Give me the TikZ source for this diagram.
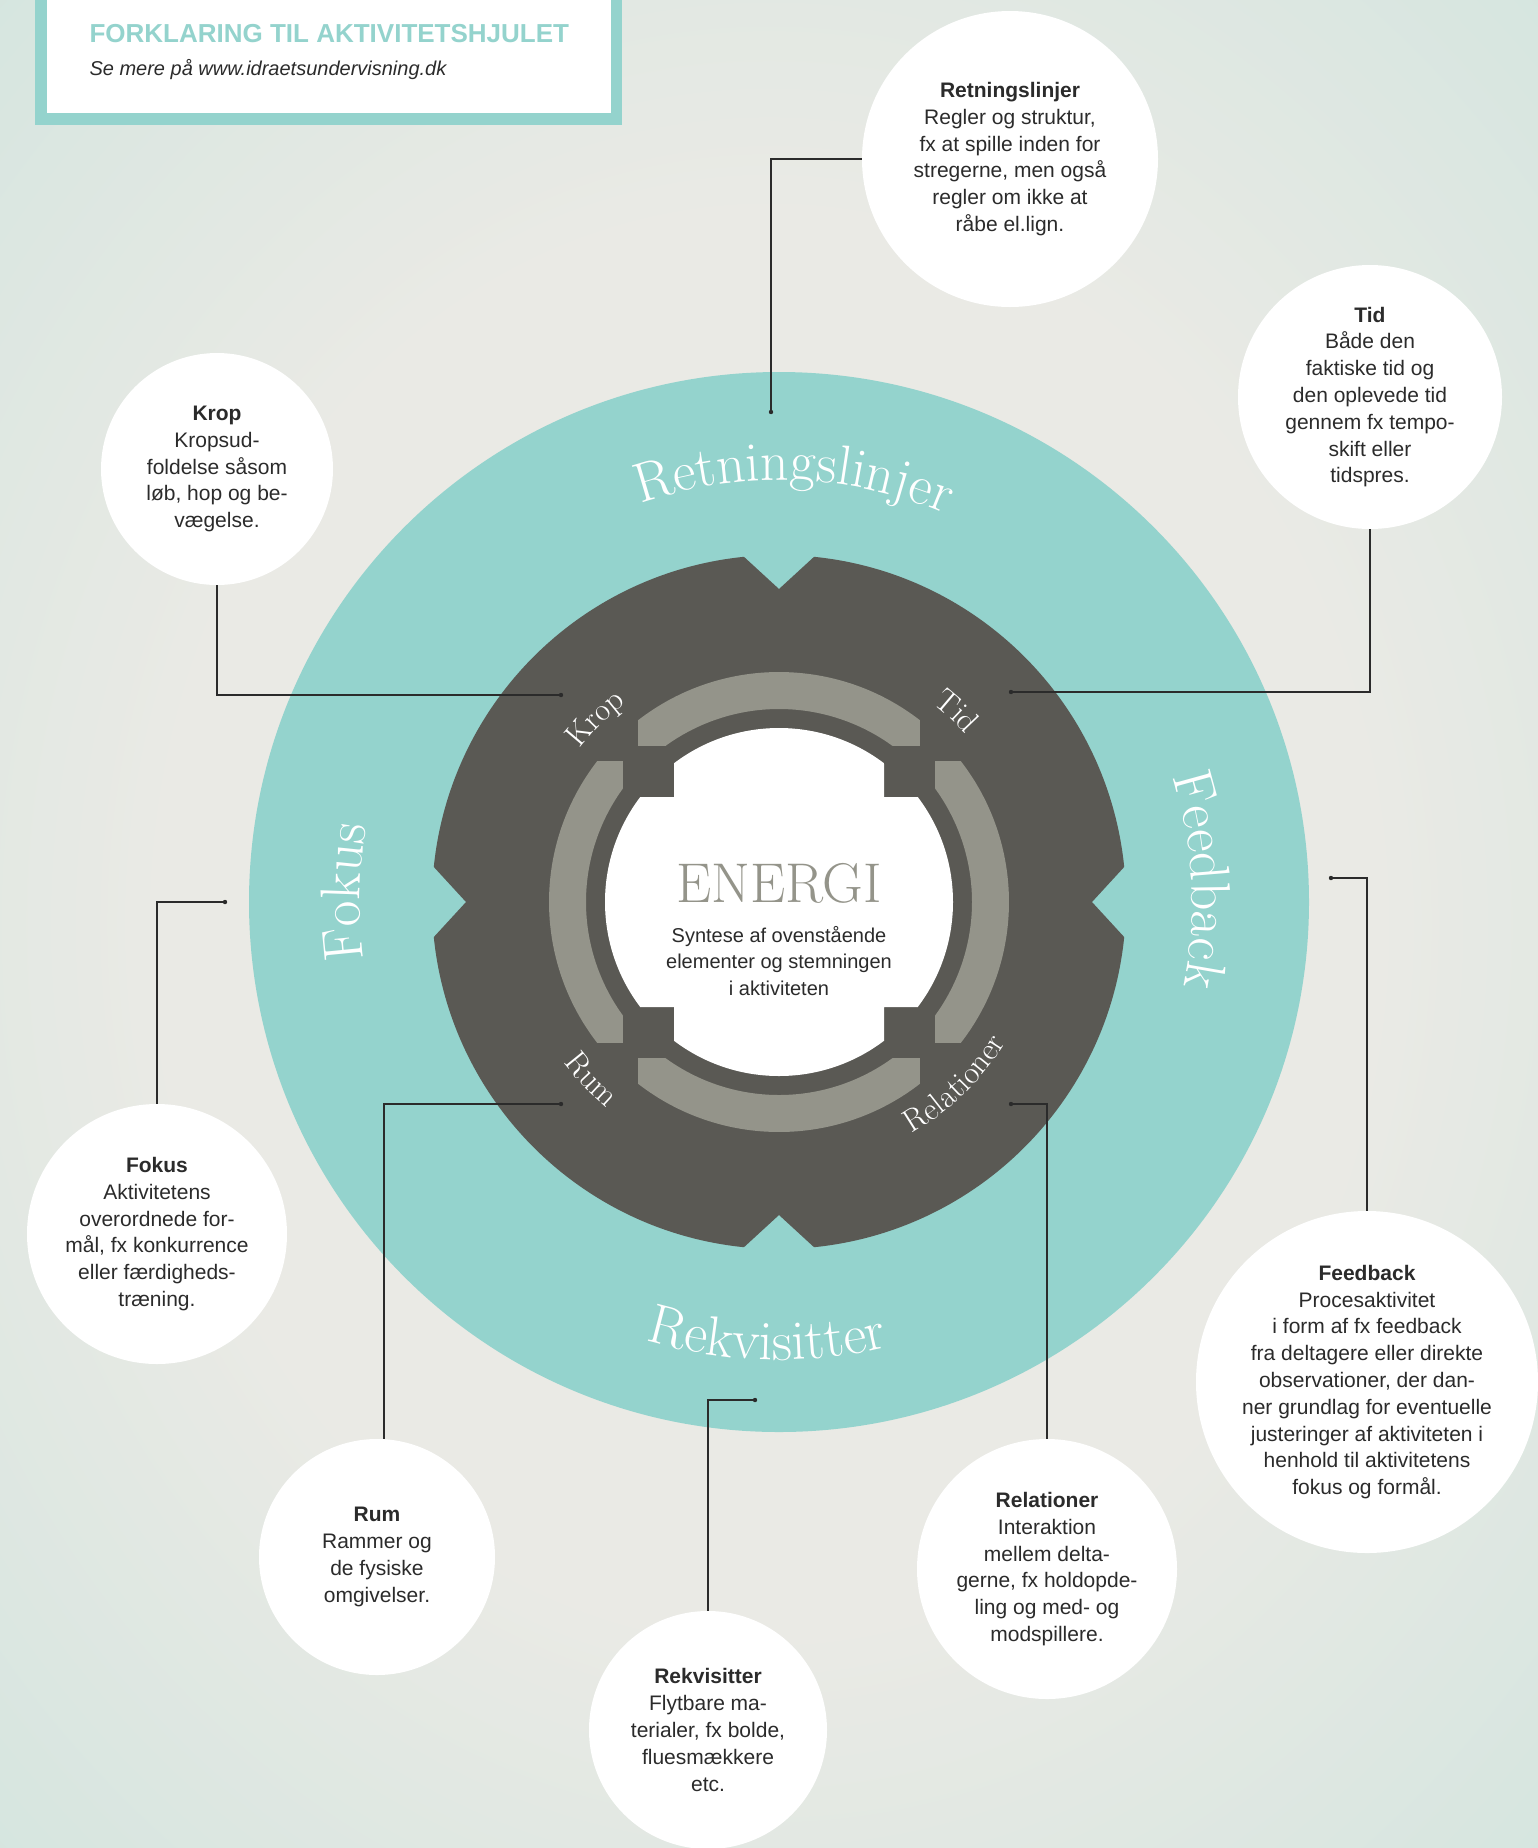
\documentclass[tikz,border=0pt]{standalone}
\usepackage{fontspec}
\newfontfamily\notesans{Liberation Sans}
\usetikzlibrary{calc,positioning,decorations.text}

\definecolor{ringteal}{HTML}{94D3CD}
\definecolor{gearfill}{HTML}{5A5954}
\definecolor{arcgray}{HTML}{94948A}
\definecolor{ink}{HTML}{2B2B2B}
\definecolor{bgmid}{HTML}{EAEAE5}
\definecolor{bgedge}{HTML}{C2E1DA}

\pgfdeclareradialshading{backdrop}{\pgfpoint{0bp}{0bp}}{color(0bp)=(bgmid); color(16bp)=(bgmid); color(42bp)=(bgedge); color(50bp)=(bgedge)}

\newcommand\ringfont{\fontsize{56}{60}\selectfont}
\newcommand\gearfont{\fontsize{32}{36}\selectfont}
\newcommand\notefont{\notesans\fontsize{21}{26.8}\selectfont}

\begin{document}
\begin{tikzpicture}[x=1pt,y=-1pt,
  note/.style={circle,fill=white,inner sep=0pt,align=center,text=ink,font=\notefont},
  lead/.style={draw=ink,line width=1.3pt},
  ringtext/.style={decorate,decoration={text along path,text align=center,text color=white,text={|\ringfont|#1}}},
  geartext/.style={decorate,decoration={text along path,text align=center,text color=white,text={|\gearfont|#1}}}]

\useasboundingbox (0,0) rectangle (1538,1848);
\shade[shading=backdrop] (-180,-180) rectangle (1718,2028);

% header
\fill[ringteal] (35,-20) rectangle (622,125);
\fill[white] (47,-20) rectangle (611,113);
\node[anchor=base west,text=ringteal,font=\notesans\bfseries\fontsize{26}{30}\selectfont] (title) at (86,42) {FORKLARING TIL AKTIVITETSHJULET};
\node[anchor=base west,text=ink,font=\notesans\itshape\fontsize{20}{24}\selectfont] (sub) at (86,75) {Se mere på www.idraetsundervisning.dk};

% wheel
\coordinate (C) at (779,902);
\begin{scope}[shift={(C)}]
\fill[ringteal] (0,0) circle[radius=530];
\fill[gearfill] (5.8:347) arc[start angle=5.8,end angle=84.2,radius=347] -- (90:313)
  -- (95.8:347) arc[start angle=95.8,end angle=174.2,radius=347] -- (180:313)
  -- (185.8:347) arc[start angle=185.8,end angle=264.2,radius=347] -- (270:313)
  -- (275.8:347) arc[start angle=275.8,end angle=354.2,radius=347] -- (0:313) -- cycle;
\foreach \a in {0,90,180,270}
  \fill[arcgray] ({\a+232.2}:230) arc[start angle=\a+232.2,end angle=\a+307.8,radius=230]
    -- ({\a+316.9}:193) arc[start angle=\a+316.9,end angle=\a+223.1,radius=193] -- cycle;
\foreach \sx/\sy in {1/1,-1/1,1/-1,-1/-1}
  \fill[gearfill] (104*\sx,104*\sy) rectangle (156*\sx,156*\sy);
\begin{scope}
\clip (-105,-180) rectangle (105,180) (-180,-105) rectangle (180,105);
\fill[white] (0,0) circle[radius=174];
\end{scope}
\node[text=arcgray,inner sep=0pt,font=\fontsize{56}{56}\selectfont] (energi) at (0,-19) {ENERGI};
\node[text=ink,inner sep=0pt,align=center,font=\notesans\fontsize{20}{26.5}\selectfont] (syntese) at (0,59)
  {Syntese af ovenstående\\elementer og stemningen\\i aktiviteten};

\path[ringtext=Retningslinjer] (242:422) arc[start angle=242,end angle=302,radius=422];
\path[ringtext=Rekvisitter] (131.6:458) arc[start angle=131.6,end angle=51.6,radius=458];
\path[ringtext=Feedback] (-33:413) arc[start angle=-33,end angle=27,radius=413];
\path[ringtext=Fokus] (151.3:419) arc[start angle=151.3,end angle=211.3,radius=419];

\path[geartext=Krop] (205:251) arc[start angle=205,end angle=245,radius=251];
\path[geartext=Tid] (293:251) arc[start angle=293,end angle=333,radius=251];
\path[geartext=Rum] (161.6:268) arc[start angle=161.6,end angle=111.6,radius=268];
\path[geartext=Relationer] (76:267) arc[start angle=76,end angle=16,radius=267];
\end{scope}

% callouts
\foreach \n/\x/\y/\r/\txt in {
  retn/1010/159/148/{\textbf{Retningslinjer}\\Regler og struktur,\\fx at spille inden for\\stregerne, men også\\regler om ikke at\\råbe el.lign.},
  tid/1370/397/132/{\textbf{Tid}\\Både den\\faktiske tid og\\den oplevede tid\\gennem fx tempo-\\skift eller\\tidspres.},
  krop/217/469/116/{\textbf{Krop}\\Kropsud-\\foldelse såsom\\løb, hop og be-\\vægelse.},
  fokus/157/1234/130/{\textbf{Fokus}\\Aktivitetens\\overordnede for-\\mål, fx konkurrence\\eller færdigheds-\\træning.},
  feedback/1367/1382/171/{\textbf{Feedback}\\Procesaktivitet\\i form af fx feedback\\fra deltagere eller direkte\\observationer, der dan-\\ner grundlag for eventuelle\\justeringer af aktiviteten i\\henhold til aktivitetens\\fokus og formål.},
  rum/377/1557/118/{\textbf{Rum}\\Rammer og\\de fysiske\\omgivelser.},
  relationer/1047/1569/130/{\textbf{Relationer}\\Interaktion\\mellem delta-\\gerne, fx holdopde-\\ling og med- og\\modspillere.},
  rekvisitter/708/1730/119/{\textbf{Rekvisitter}\\Flytbare ma-\\terialer, fx bolde,\\fluesmækkere\\etc.}}
  \node[note,minimum size=2*\r] (\n) at (\x,\y) {\txt};

% leader lines
\coordinate (retnEnd) at (771,412);
\coordinate (tidEnd) at (1011,692);
\coordinate (kropEnd) at (561,695);
\coordinate (fokusEnd) at (225,902);
\coordinate (fbEnd) at (1331,878);
\coordinate (rumEnd) at (561,1104);
\coordinate (relEnd) at (1011,1104);
\coordinate (rekEnd) at (755,1400);

\draw[lead] (retn.west) -| (retnEnd);
\draw[lead] (tid.south) |- (tidEnd);
\draw[lead] (krop.south) |- (kropEnd);
\draw[lead] (fokus.north) |- (fokusEnd);
\draw[lead] (feedback.north) |- (fbEnd);
\draw[lead] ([xshift=7pt]rum.north) |- (rumEnd);
\draw[lead] (relationer.north) |- (relEnd);
\draw[lead] (rekvisitter.north) |- (rekEnd);
\foreach \c in {retnEnd,tidEnd,kropEnd,fokusEnd,fbEnd,rumEnd,relEnd,rekEnd}
  \fill[ink] (\c) circle[radius=2.2];

\end{tikzpicture}
\end{document}
